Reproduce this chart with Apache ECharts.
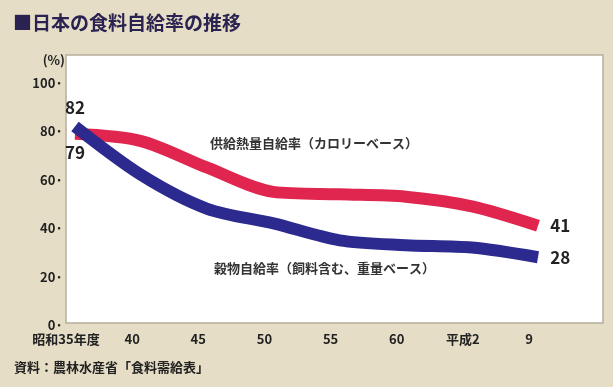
<!DOCTYPE html>
<html>
<head>
<meta charset="utf-8">
<script src="https://cdn.jsdelivr.net/npm/echarts@6/dist/echarts.min.js"></script>
<style>
  html, body { margin: 0; padding: 0; background: #e5ddc5; }
  #chart { width: 613px; height: 387px; }
</style>
</head>
<body>
<div id="chart"></div>
<script>
// 年度
var years = ['昭和35年度', '40', '45', '50', '55', '60', '平成2', '9'];
// 供給熱量自給率（カロリーベース）
var calorie = [79, 76, 65, 55, 54, 53, 49, 41];
// 穀物自給率（飼料含む、重量ベース）
var grain = [82, 62, 48, 42, 35, 33, 32, 28];
var yTicks = [0, 20, 40, 60, 80, 100];

var FONT = '"Noto Sans CJK JP", "Noto Sans", sans-serif';

var withLabels = function (values, startPos) {
    return values.map(function (v, i) {
        if (i === 0) return { value: v, label: { show: true, position: startPos, distance: 10 } };
        if (i === values.length - 1) return { value: v, label: { show: true, position: 'right', distance: 12 } };
        return v;
    });
};

var labelStyle = {
    show: false, fontFamily: FONT, fontWeight: 'bold', fontSize: 17, color: '#222'
};

var chart = echarts.init(document.getElementById('chart'));
chart.setOption({
    backgroundColor: '#e5ddc5',
    animation: false,
    title: {
        text: '■日本の食料自給率の推移',
        left: 8, top: 8,
        textStyle: { fontFamily: FONT, fontWeight: 'bold', fontSize: 19, color: '#2a2250' }
    },
    graphic: [
        {
            type: 'rect', z: -1,
            shape: { x: 66, y: 55, width: 537, height: 268 },
            style: { fill: '#ffffff', stroke: '#b5ae9a', lineWidth: 1.5 }
        },
        {
            type: 'text', left: 210, top: 137,
            style: { text: '供給熱量自給率（カロリーベース）', font: 'bold 13px ' + FONT, fill: '#333' }
        },
        {
            type: 'text', left: 214, top: 262,
            style: { text: '穀物自給率（飼料含む、重量ベース）', font: 'bold 13px ' + FONT, fill: '#333' }
        },
        {
            type: 'text', left: 14, top: 361,
            style: { text: '資料：農林水産省「食料需給表」', font: 'bold 13px ' + FONT, fill: '#222' }
        }
    ],
    grid: { left: 75, right: 75, top: 83, bottom: 62 },
    xAxis: {
        type: 'category',
        data: years,
        boundaryGap: false,
        axisLine: { show: false },
        axisTick: { show: false },
        axisLabel: {
            interval: 0,
            margin: 8,
            padding: [0, 18, 0, 0],
            fontFamily: FONT, fontWeight: 'bold', fontSize: 13, color: '#222'
        }
    },
    yAxis: {
        type: 'value',
        min: 0, max: 100, interval: 20,
        name: '(%)',
        nameGap: 16,
        nameTextStyle: { align: 'right', padding: [0, 10, 0, 0], fontFamily: FONT, fontWeight: 'bold', fontSize: 13, color: '#222' },
        axisLine: { show: false },
        axisTick: { show: false },
        splitLine: { show: false },
        axisLabel: {
            margin: 12,
            formatter: function (v) { return yTicks.indexOf(v) >= 0 ? v + '·' : ''; },
            fontFamily: FONT, fontWeight: 'bold', fontSize: 13, color: '#222'
        }
    },
    series: [
        {
            name: '供給熱量自給率',
            type: 'line',
            data: withLabels(calorie, 'bottom'),
            smooth: 0.3,
            symbol: 'circle',
            symbolSize: 0.5,
            showSymbol: true,
            lineStyle: { color: '#e0264f', width: 12 },
            itemStyle: { color: '#e0264f' },
            label: labelStyle
        },
        {
            name: '穀物自給率',
            type: 'line',
            data: withLabels(grain, 'top'),
            smooth: 0.3,
            symbol: 'circle',
            symbolSize: 0.5,
            showSymbol: true,
            lineStyle: { color: '#2c2a8e', width: 12 },
            itemStyle: { color: '#2c2a8e' },
            label: labelStyle
        }
    ]
});
</script>
</body>
</html>
